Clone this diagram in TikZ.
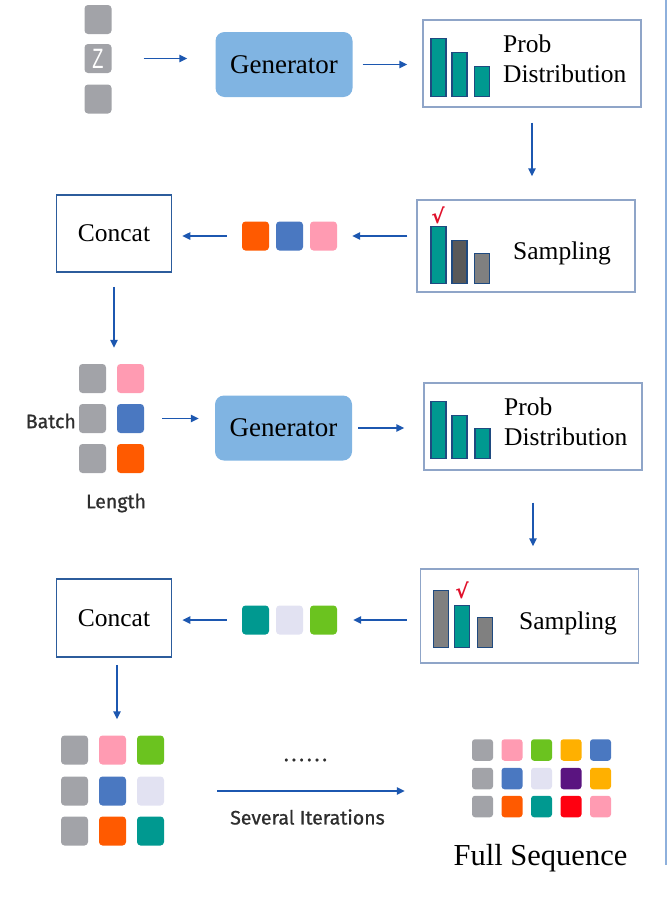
\documentclass[tikz,border=0pt]{standalone}
\usepackage{fontspec}
\setmainfont{Liberation Serif}
\newfontfamily\labfont{Fira Sans}[FakeBold=0.9]
\newfontfamily\zfont{Liberation Sans}
\newfontfamily\chkfont{DejaVu Sans}
\usetikzlibrary{arrows.meta}
\definecolor{tgray}{HTML}{A2A3A8}
\definecolor{tpink}{HTML}{FF9BB2}
\definecolor{tblue}{HTML}{4A78C1}
\definecolor{torange}{HTML}{FF5A00}
\definecolor{tteal}{HTML}{009990}
\definecolor{tlav}{HTML}{E2E2F2}
\definecolor{tgreen}{HTML}{6BC31F}
\definecolor{tamber}{HTML}{FFB000}
\definecolor{tpurple}{HTML}{5A1480}
\definecolor{tred}{HTML}{FF0010}
\definecolor{genblue}{HTML}{80B4E2}
\definecolor{arrblue}{HTML}{1C57B0}
\definecolor{boxgray}{HTML}{8FA5C8}
\definecolor{concatb}{HTML}{2C5C9C}
\definecolor{barb}{HTML}{1F4A80}
\definecolor{bdark}{HTML}{595959}
\definecolor{bgray}{HTML}{808080}
\definecolor{chkred}{HTML}{E0102A}
\definecolor{sideline}{HTML}{8EB0DC}
\begin{document}
\begin{tikzpicture}[x=1pt,y=-1pt,
  tok/.style={rounded corners=3.5pt, minimum width=27pt, minimum height=29pt, inner sep=0pt},
  stok/.style={rounded corners=3pt, minimum width=21pt, minimum height=21.5pt, inner sep=0pt},
  gen/.style={fill=genblue, rounded corners=9pt, minimum width=137pt, minimum height=65pt, inner sep=0pt, font=\fontsize{27}{30}\selectfont},
  pbox/.style={draw=boxgray, line width=1.4pt, minimum width=218pt, inner sep=0pt},
  cbox/.style={draw=concatb, line width=1.8pt, minimum width=115pt, minimum height=77pt, inner sep=0pt, font=\fontsize{25.5}{28}\selectfont},
  bar/.style={draw=barb, line width=1.3pt, minimum width=15pt, inner sep=0pt, anchor=south},
  btxt/.style={font=\fontsize{25.5}{28}\selectfont, anchor=base west, inner sep=0pt},
  lab/.style={font=\labfont\fontsize{19.5}{22}\selectfont, text=black!82, inner sep=0pt},
  chk/.style={font=\chkfont\bfseries\fontsize{20}{20}\selectfont, text=chkred, inner sep=0pt},
  arr/.style={draw=arrblue, line width=1.4pt, -{Triangle[length=8pt,width=7.5pt]}}
]
\useasboundingbox (0,0) rectangle (668,910);
% side line
\draw[sideline, line width=2pt] (666,0) -- (666,865);

% Z column
\node[tok, fill=tgray] (z1) at (98,19.5) {};
\node[tok, fill=tgray, text=white, font=\zfont\fontsize{28}{28}\selectfont] (z2) at (98,58.5) {\scalebox{0.65}[1]{Z}};
\node[tok, fill=tgray] (z3) at (98,99) {};

% Generator 1
\node[gen] (gen1) at (284,64.5) {Generator};

% Prob box 1
\node[pbox, minimum height=87pt] (p1) at (532,63.5) {};
\node[bar, fill=tteal, minimum height=58pt] (p1a) at (438.5,97) {};
\node[bar, fill=tteal, minimum height=44pt] (p1b) at (459.5,97) {};
\node[bar, fill=tteal, minimum height=30pt] (p1c) at (482,97) {};
\node[btxt] (p1t1) at (503,52) {Prob};
\node[btxt] (p1t2) at (503,82) {Distribution};

% Sampling box 1
\node[pbox, minimum height=92pt] (s1) at (526,246) {};
\node[bar, fill=tteal, minimum height=57pt] (s1a) at (438.5,284) {};
\node[bar, fill=bdark, minimum height=43pt] (s1b) at (459.5,284) {};
\node[bar, fill=bgray, minimum height=30pt] (s1c) at (482,284) {};
\node[chk] (s1k) at (438,215) {√};
\node[btxt] (s1t) at (513,259) {Sampling};

% tokens 1
\node[tok, fill=torange] (t1a) at (255.5,236) {};
\node[tok, fill=tblue] (t1b) at (289.5,236) {};
\node[tok, fill=tpink] (t1c) at (323.5,236) {};

% Concat 1
\node[cbox] (c1) at (114,233.5) {Concat};

% Batch grid
\node[tok, fill=tgray] (b11) at (92.5,378.5) {};
\node[tok, fill=tpink] (b12) at (130.5,378.5) {};
\node[tok, fill=tgray] (b21) at (92.5,418.5) {};
\node[tok, fill=tblue] (b22) at (130.5,418.5) {};
\node[tok, fill=tgray] (b31) at (92.5,458.5) {};
\node[tok, fill=torange] (b32) at (130.5,458.5) {};
\node[lab, anchor=east] (batch) at (76,421) {Batch};
\node[lab] (length) at (116,503) {Length};

% Generator 2
\node[gen] (gen2) at (283.5,428) {Generator};

% Prob box 2
\node[pbox, minimum height=87pt] (p2) at (533,426.5) {};
\node[bar, fill=tteal, minimum height=57pt] (p2a) at (438.5,459) {};
\node[bar, fill=tteal, minimum height=43pt] (p2b) at (459.5,459) {};
\node[bar, fill=tteal, minimum height=30pt] (p2c) at (482.5,459) {};
\node[btxt] (p2t1) at (504,415) {Prob};
\node[btxt] (p2t2) at (504,445) {Distribution};

% Sampling box 2
\node[pbox, minimum height=94pt] (s2) at (529.5,616) {};
\node[bar, fill=bgray, minimum height=57pt] (s2a) at (441,648) {};
\node[bar, fill=tteal, minimum height=42pt] (s2b) at (462,648) {};
\node[bar, fill=bgray, minimum height=30pt] (s2c) at (485,648) {};
\node[chk] (s2k) at (462,590) {√};
\node[btxt] (s2t) at (519,629) {Sampling};

% tokens 2
\node[tok, fill=tteal] (t2a) at (255.5,620) {};
\node[tok, fill=tlav] (t2b) at (289.5,620) {};
\node[tok, fill=tgreen] (t2c) at (323.5,620) {};

% Concat 2
\node[cbox, minimum height=78pt] (c2) at (114,618) {Concat};

% 3x3 grid
\node[tok, fill=tgray] (g1a) at (74.5,750) {};
\node[tok, fill=tpink] (g1b) at (112.5,750) {};
\node[tok, fill=tgreen] (g1c) at (150.5,750) {};
\node[tok, fill=tgray] (g2a) at (74.5,791) {};
\node[tok, fill=tblue] (g2b) at (112.5,791) {};
\node[tok, fill=tlav] (g2c) at (150.5,791) {};
\node[tok, fill=tgray] (g3a) at (74.5,831) {};
\node[tok, fill=torange] (g3b) at (112.5,831) {};
\node[tok, fill=tteal] (g3c) at (150.5,831) {};

% Full sequence grid
\foreach \c [count=\i] in {tgray,tpink,tgreen,tamber,tblue}
  \node[stok, fill=\c] (fa\i) at ({482.5+29.5*(\i-1)},750) {};
\foreach \c [count=\i] in {tgray,tblue,tlav,tpurple,tamber}
  \node[stok, fill=\c] (fb\i) at ({482.5+29.5*(\i-1)},778.5) {};
\foreach \c [count=\i] in {tgray,torange,tteal,tred,tpink}
  \node[stok, fill=\c] (fc\i) at ({482.5+29.5*(\i-1)},806.5) {};
\node[font=\fontsize{30.5}{32}\selectfont, inner sep=0pt] (fs) at (540.5,858) {Full Sequence};

\node[lab] (dots) at (305.5,760) {.\hspace{3pt}.\hspace{3pt}.\hspace{3pt}.\hspace{3pt}.\hspace{3pt}.};
\node[lab] (iter) at (307.5,817) {Several Iterations};

% connectors
\draw[arr, shorten <=32pt, shorten >=28pt] (z2.east) -- (z2.east -| gen1.west);
\draw[arr, shorten <=10pt, shorten >=15pt] (gen1.east) -- (gen1.east -| p1.west);
\draw[arr, shorten <=15pt, shorten >=23pt] (p1.south) -- (p1.south |- s1.north);
\draw[arr, shorten <=9pt, shorten >=15pt] (s1.west |- t1c) -- (t1c.east);
\draw[arr, shorten <=15pt, shorten >=10pt] (t1a.west) -- (t1a.west -| c1.east);
\draw[arr, shorten <=14pt, shorten >=16pt] (c1.south) -- (c1.south |- b11.north);
\draw[arr, shorten <=18pt, shorten >=16pt] (b22.east) -- (b22.east -| gen2.west);
\draw[arr, shorten <=6pt, shorten >=19pt] (gen2.east) -- (gen2.east -| p2.west);
\draw[arr, shorten <=32pt, shorten >=22pt] (p2.south) -- (p2.south |- s2.north);
\draw[arr, shorten <=13pt, shorten >=16pt] (s2.west |- t2c) -- (t2c.east);
\draw[arr, shorten <=15pt, shorten >=10pt] (t2a.west) -- (t2a.west -| c2.east);
\draw[arr, shorten <=7pt, shorten >=16pt] ([xshift=3pt]c2.south) -- ([xshift=3pt]c2.south |- g1b.north);
\draw[arr, shorten <=53pt, shorten >=67pt] (g2c.east) -- (g2c.east -| fb1.west);
\end{tikzpicture}
\end{document}
